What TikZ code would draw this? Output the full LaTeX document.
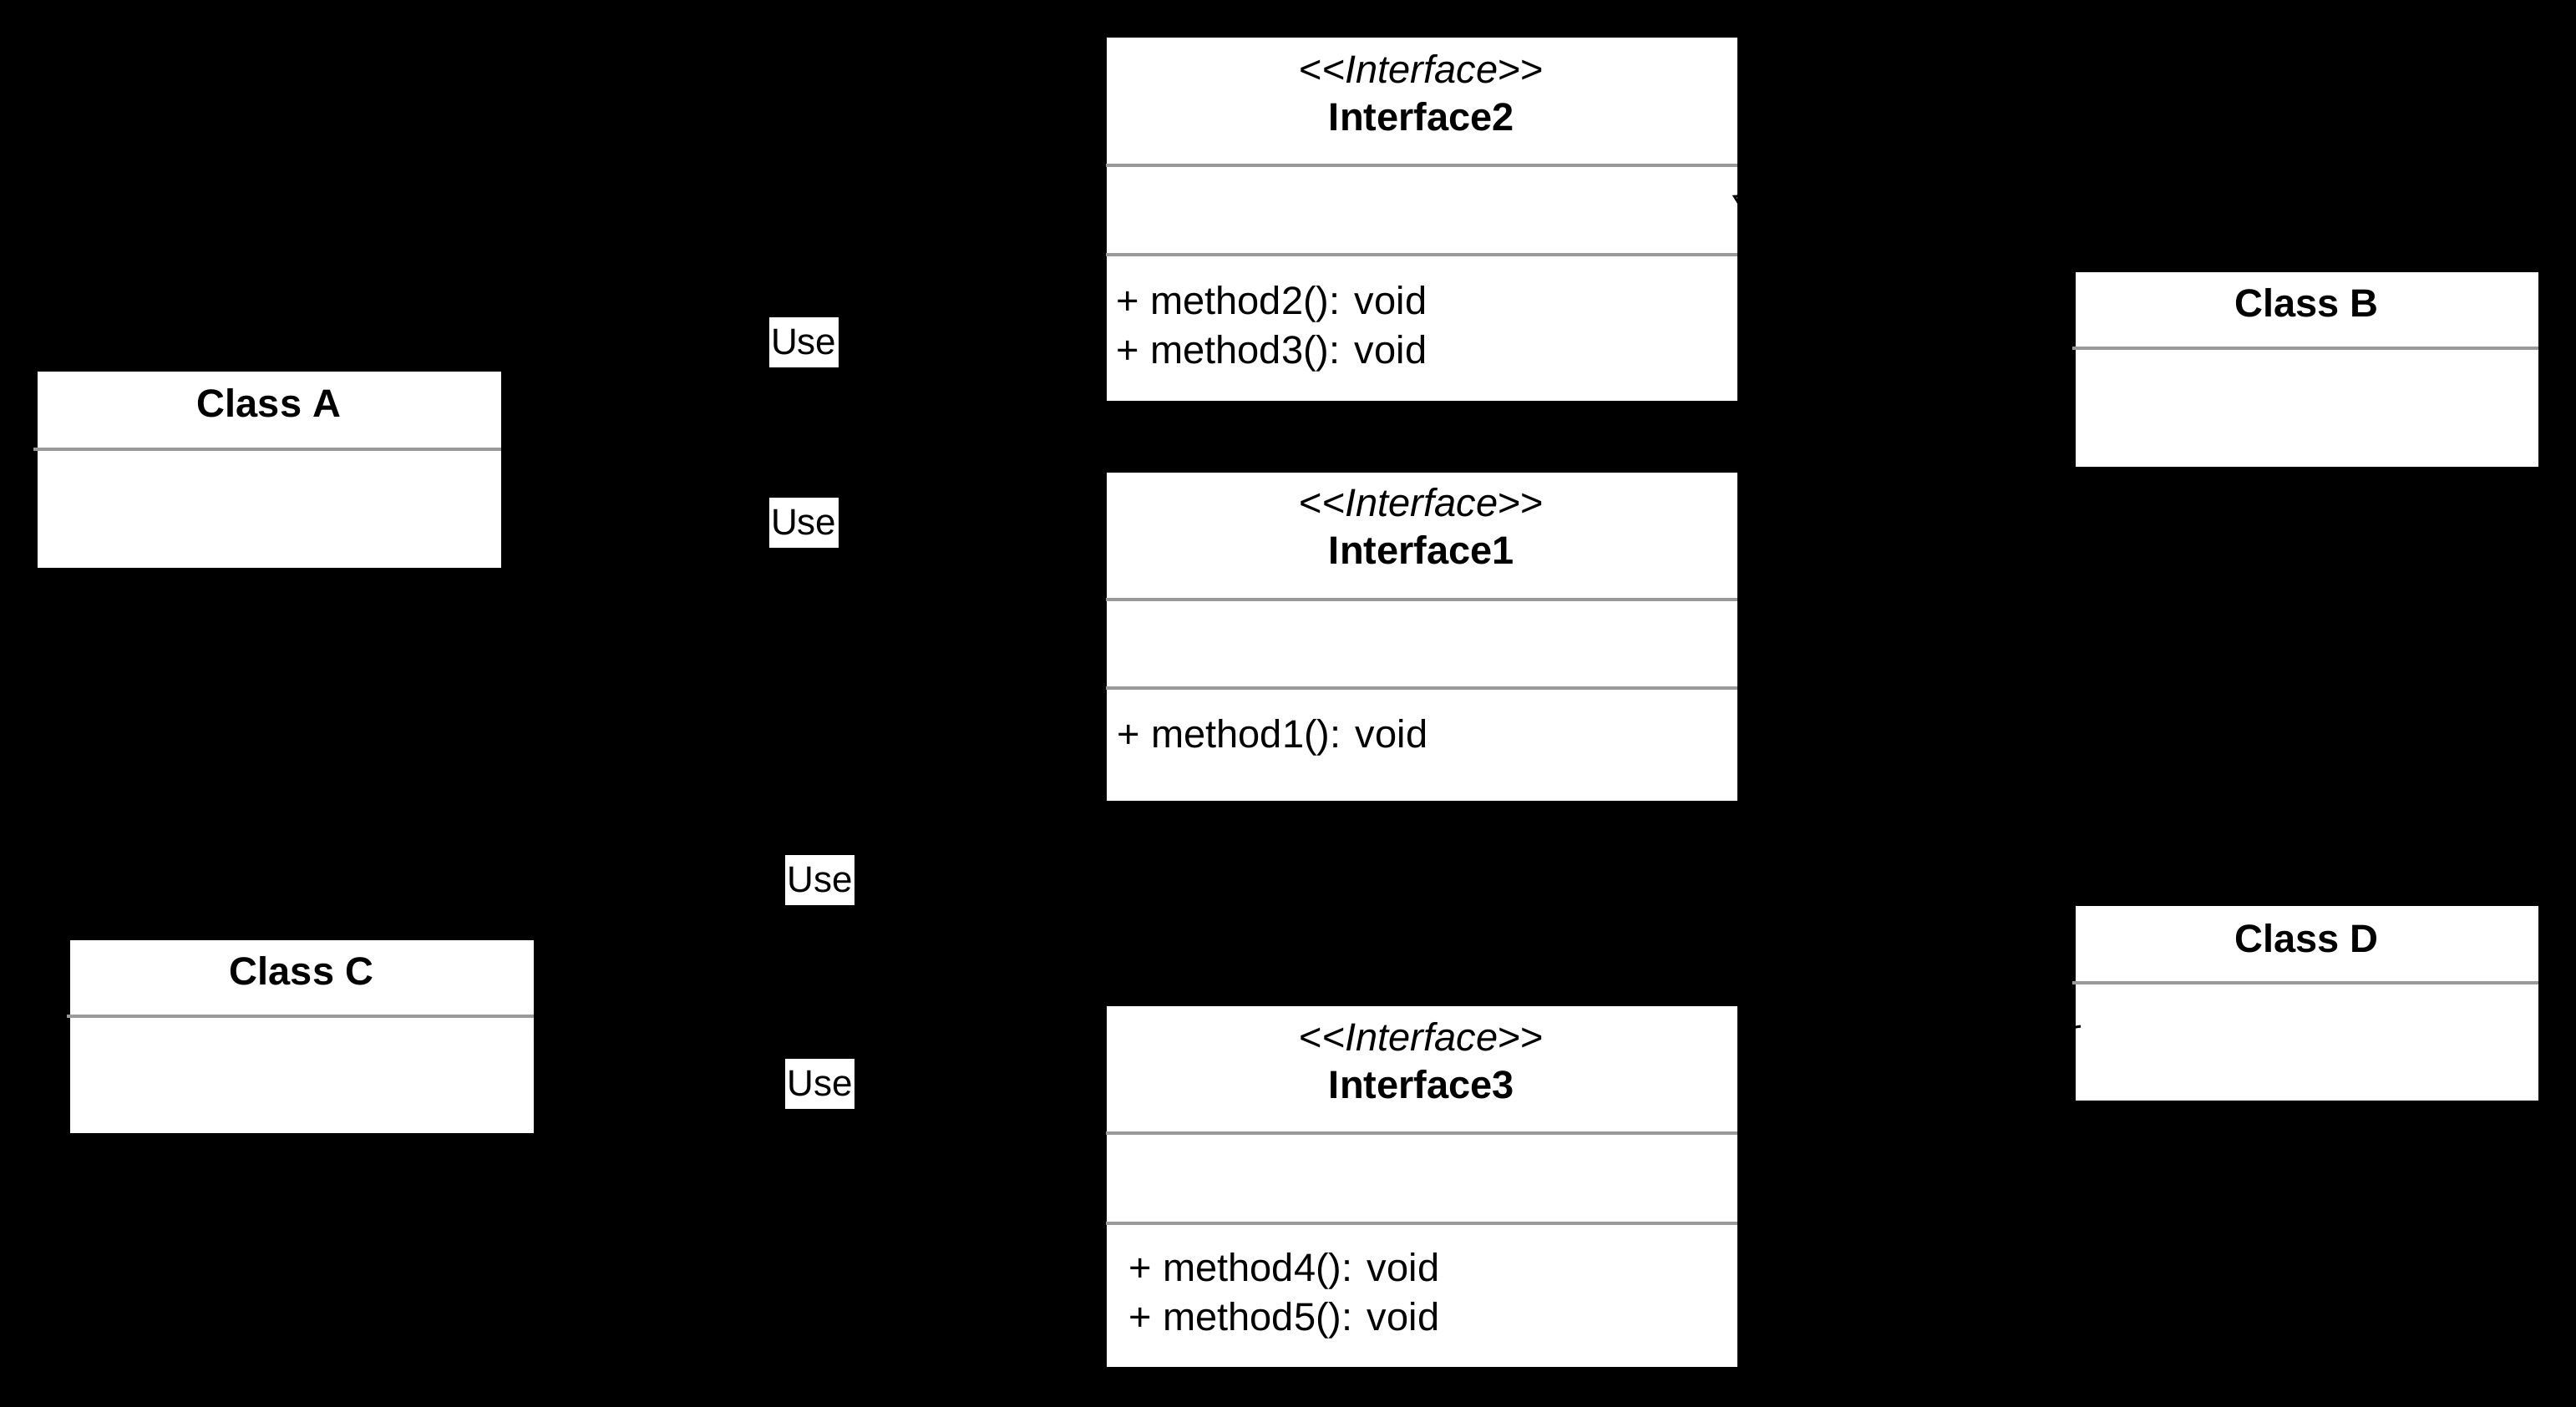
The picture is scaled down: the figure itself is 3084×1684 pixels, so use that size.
\documentclass[tikz,border=0pt]{standalone}
\usepackage{fontspec}
\newfontfamily\uml{Liberation Sans}
\usetikzlibrary{arrows.meta}
\begin{document}
\begin{tikzpicture}[x=0.25pt,y=-0.25pt,
  umlbox/.style={draw=black, line width=0.25pt, fill=white, inner sep=0pt, rectangle},
  divider/.style={draw=black!40, line width=0.9pt},
  txt/.style={font=\uml\fontsize{11.75}{14}\selectfont, inner sep=0pt, text=black},
  ttl/.style={txt, font=\uml\bfseries\fontsize{11.75}{14}\selectfont},
  meth/.style={txt, anchor=west},
  usearrow/.style={draw=black, line width=0.75pt, dashed, -{Straight Barb[length=5pt,width=7pt]}},
  realarrow/.style={draw=black, line width=0.75pt, dashed, -{Triangle[open,length=6pt,width=7pt]}},
  uselabel/.style={fill=white, font=\uml\fontsize{11}{13}\selectfont, text=black,
    inner sep=0pt, minimum width=20.75pt, minimum height=15pt}
]
\useasboundingbox (0,0) rectangle (3084,1684);
\fill[black] (-20,-20) rectangle (3104,1704);

% Interface2
\node[umlbox, minimum width=189pt, minimum height=109pt] (I2) at (1702,262) {};
\draw[divider] (1324,198) -- (2080,198);
\draw[divider] (1324,305) -- (2080,305);
\node[txt] (I2s) at (1702,83) {<<\textit{Interface}>>};
\node[ttl] (I2t) at (1702,140) {Interface2};
\node[meth] (I2m1) at (1336,364) {+ method2(): void};
\node[meth] (I2m2) at (1336,423) {+ method3(): void};

% Interface1
\node[umlbox, minimum width=189pt, minimum height=98.5pt] (I1) at (1702,762) {};
\draw[divider] (1324,718) -- (2080,718);
\draw[divider] (1324,824) -- (2080,824);
\node[txt] (I1s) at (1702,602) {<<\textit{Interface}>>};
\node[ttl] (I1t) at (1702,659) {Interface1};
\node[meth] (I1m1) at (1337,883) {+ method1(): void};

% Interface3
\node[umlbox, minimum width=189pt, minimum height=108.25pt] (I3) at (1702,1420.5) {};
\draw[divider] (1324,1357) -- (2080,1357);
\draw[divider] (1324,1465) -- (2080,1465);
\node[txt] (I3s) at (1702,1242) {<<\textit{Interface}>>};
\node[ttl] (I3t) at (1702,1299) {Interface3};
\node[meth] (I3m1) at (1351,1522) {+ method4(): void};
\node[meth] (I3m2) at (1351,1581) {+ method5(): void};

% Class A
\node[umlbox, minimum width=139pt, minimum height=59pt] (A) at (322,562) {};
\draw[divider] (40,538) -- (600,538);
\node[ttl] (At) at (322,483) {Class A};

% Class C
\node[umlbox, minimum width=139pt, minimum height=58pt] (C) at (361,1241) {};
\draw[divider] (80,1217) -- (639,1217);
\node[ttl] (Ct) at (361,1163) {Class C};

% Class B
\node[umlbox, minimum width=138.75pt, minimum height=58.5pt] (B) at (2761.5,442) {};
\draw[divider] (2481,417) -- (3039,417);
\node[ttl] (Bt) at (2761.5,363) {Class B};

% Class D
\node[umlbox, minimum width=138.75pt, minimum height=58.5pt] (D) at (2761.5,1201) {};
\draw[divider] (2481,1177) -- (3039,1177);
\node[ttl] (Dt) at (2761.5,1124) {Class D};

% connector end points
\coordinate (a2) at (1324,258);
\coordinate (a1) at (1324,690);
\coordinate (c1) at (1324,867);
\coordinate (c3) at (1324,1355);
\coordinate (b2) at (2080,237);
\coordinate (b1) at (2080,700);
\coordinate (d1) at (2080,850);
\coordinate (d3) at (2080,1300);
\coordinate (ds) at (2491,1229);

% "Use" dependencies
\draw[usearrow] (A.east) -- (a2) node[uselabel, midway, solid] (u1) {Use};
\draw[usearrow] (A.east) -- (a1) node[uselabel, midway, solid] (u2) {Use};
\draw[usearrow] (C.east) -- (c1) node[uselabel, midway, solid] (u3) {Use};
\draw[usearrow] (C.east) -- (c3) node[uselabel, midway, solid] (u4) {Use};

% realizations
\draw[realarrow, shorten >=-1.75pt] (B.west) -- (b2);
\draw[realarrow] (B.west) -- (b1);
\draw[realarrow] (D.west) -- (d1);
\draw[realarrow] (ds) -- (d3);
\end{tikzpicture}
\end{document}
